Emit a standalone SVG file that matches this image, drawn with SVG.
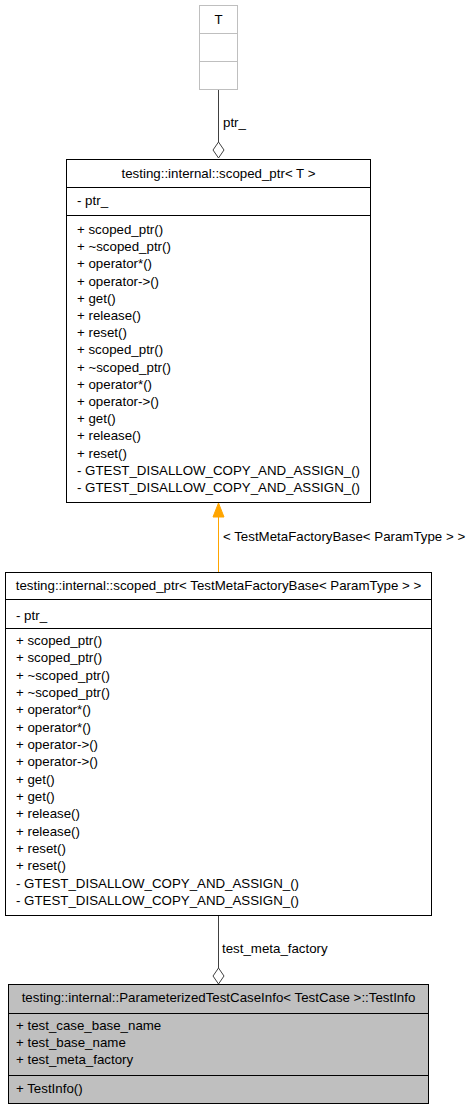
<svg xmlns="http://www.w3.org/2000/svg" width="473" height="1109" viewBox="0 0 473 1109">
<style>
text{font-family:"Liberation Sans",Arial,Helvetica,sans-serif;font-size:13.3px;fill:#000}
.c{text-anchor:middle}
.box{fill:#fff;stroke:#000;stroke-width:1}
.gbox{fill:#fff;stroke:#bfbfbf;stroke-width:1}
.sel{fill:#bfbfbf;stroke:#000;stroke-width:1}
.ln{stroke:#000;stroke-width:1}
.gl{stroke:#bfbfbf;stroke-width:1}
.edge{stroke:#404040;stroke-width:1;fill:none}
.dia{fill:#fff;stroke:#404040;stroke-width:1}
</style>
<rect width="473" height="1109" fill="#fff"/>
<g id="connectors">
<line class="edge" x1="218.5" y1="89" x2="218.5" y2="142"/>
<polygon class="dia" points="218.5,142 224,150 218.5,158 213,150"/>
<text x="223" y="127">ptr_</text>
<line x1="218.5" y1="517" x2="218.5" y2="572" stroke="#ffa500" stroke-width="1"/>
<polygon points="218.5,503 224,517 213,517" fill="#ffa500" stroke="#ffa500" stroke-width="1"/>
<text x="223" y="541">&lt; TestMetaFactoryBase&lt; ParamType &gt; &gt;</text>
<line class="edge" x1="218.5" y1="916" x2="218.5" y2="968"/>
<polygon class="dia" points="218.5,968 224,976 218.5,984 213,976"/>
<text x="222" y="953">test_meta_factory</text>
</g>
<g id="node_T">
<rect class="gbox" x="199.5" y="5.5" width="38" height="84"/>
<line class="gl" x1="199.5" y1="33.5" x2="237.5" y2="33.5"/>
<line class="gl" x1="199.5" y1="61.5" x2="237.5" y2="61.5"/>
<text class="c" x="218.5" y="24">T</text>
</g>
<g id="node_scoped_ptr_T">
<rect class="box" x="66.5" y="159.5" width="304" height="343"/>
<line class="ln" x1="66.5" y1="187.5" x2="370.5" y2="187.5"/>
<line class="ln" x1="66.5" y1="215.5" x2="370.5" y2="215.5"/>
<text class="c" x="218.5" y="178">testing::internal::scoped_ptr&lt; T &gt;</text>
<text x="77" y="205">- ptr_</text>
<text x="77" y="234">+ scoped_ptr()</text>
<text x="77" y="251.2">+ ~scoped_ptr()</text>
<text x="77" y="268.4">+ operator*()</text>
<text x="77" y="285.6">+ operator-&gt;()</text>
<text x="77" y="302.8">+ get()</text>
<text x="77" y="320">+ release()</text>
<text x="77" y="337.2">+ reset()</text>
<text x="77" y="354.4">+ scoped_ptr()</text>
<text x="77" y="371.6">+ ~scoped_ptr()</text>
<text x="77" y="388.8">+ operator*()</text>
<text x="77" y="406">+ operator-&gt;()</text>
<text x="77" y="423.2">+ get()</text>
<text x="77" y="440.4">+ release()</text>
<text x="77" y="457.6">+ reset()</text>
<text x="77" y="474.8">- GTEST_DISALLOW_COPY_AND_ASSIGN_()</text>
<text x="77" y="492">- GTEST_DISALLOW_COPY_AND_ASSIGN_()</text>
</g>
<g id="node_scoped_ptr_TMFB">
<rect class="box" x="5.5" y="572.5" width="426" height="343"/>
<line class="ln" x1="5.5" y1="599.5" x2="431.5" y2="599.5"/>
<line class="ln" x1="5.5" y1="628.5" x2="431.5" y2="628.5"/>
<text class="c" x="218.5" y="590">testing::internal::scoped_ptr&lt; TestMetaFactoryBase&lt; ParamType &gt; &gt;</text>
<text x="16" y="620">- ptr_</text>
<text x="16" y="645">+ scoped_ptr()</text>
<text x="16" y="662.3">+ scoped_ptr()</text>
<text x="16" y="679.7">+ ~scoped_ptr()</text>
<text x="16" y="697">+ ~scoped_ptr()</text>
<text x="16" y="714.3">+ operator*()</text>
<text x="16" y="731.7">+ operator*()</text>
<text x="16" y="749">+ operator-&gt;()</text>
<text x="16" y="766.3">+ operator-&gt;()</text>
<text x="16" y="783.7">+ get()</text>
<text x="16" y="801">+ get()</text>
<text x="16" y="818.3">+ release()</text>
<text x="16" y="835.7">+ release()</text>
<text x="16" y="853">+ reset()</text>
<text x="16" y="870.3">+ reset()</text>
<text x="16" y="887.7">- GTEST_DISALLOW_COPY_AND_ASSIGN_()</text>
<text x="16" y="905">- GTEST_DISALLOW_COPY_AND_ASSIGN_()</text>
</g>
<g id="node_TestInfo">
<rect class="sel" x="8.5" y="984.5" width="420" height="119"/>
<line class="ln" x1="8.5" y1="1013.5" x2="428.5" y2="1013.5"/>
<line class="ln" x1="8.5" y1="1075.5" x2="428.5" y2="1075.5"/>
<text class="c" x="218.5" y="1002">testing::internal::ParameterizedTestCaseInfo&lt; TestCase &gt;::TestInfo</text>
<text x="16" y="1030">+ test_case_base_name</text>
<text x="16" y="1047">+ test_base_name</text>
<text x="16" y="1064">+ test_meta_factory</text>
<text x="16" y="1093">+ TestInfo()</text>
</g>
</svg>
